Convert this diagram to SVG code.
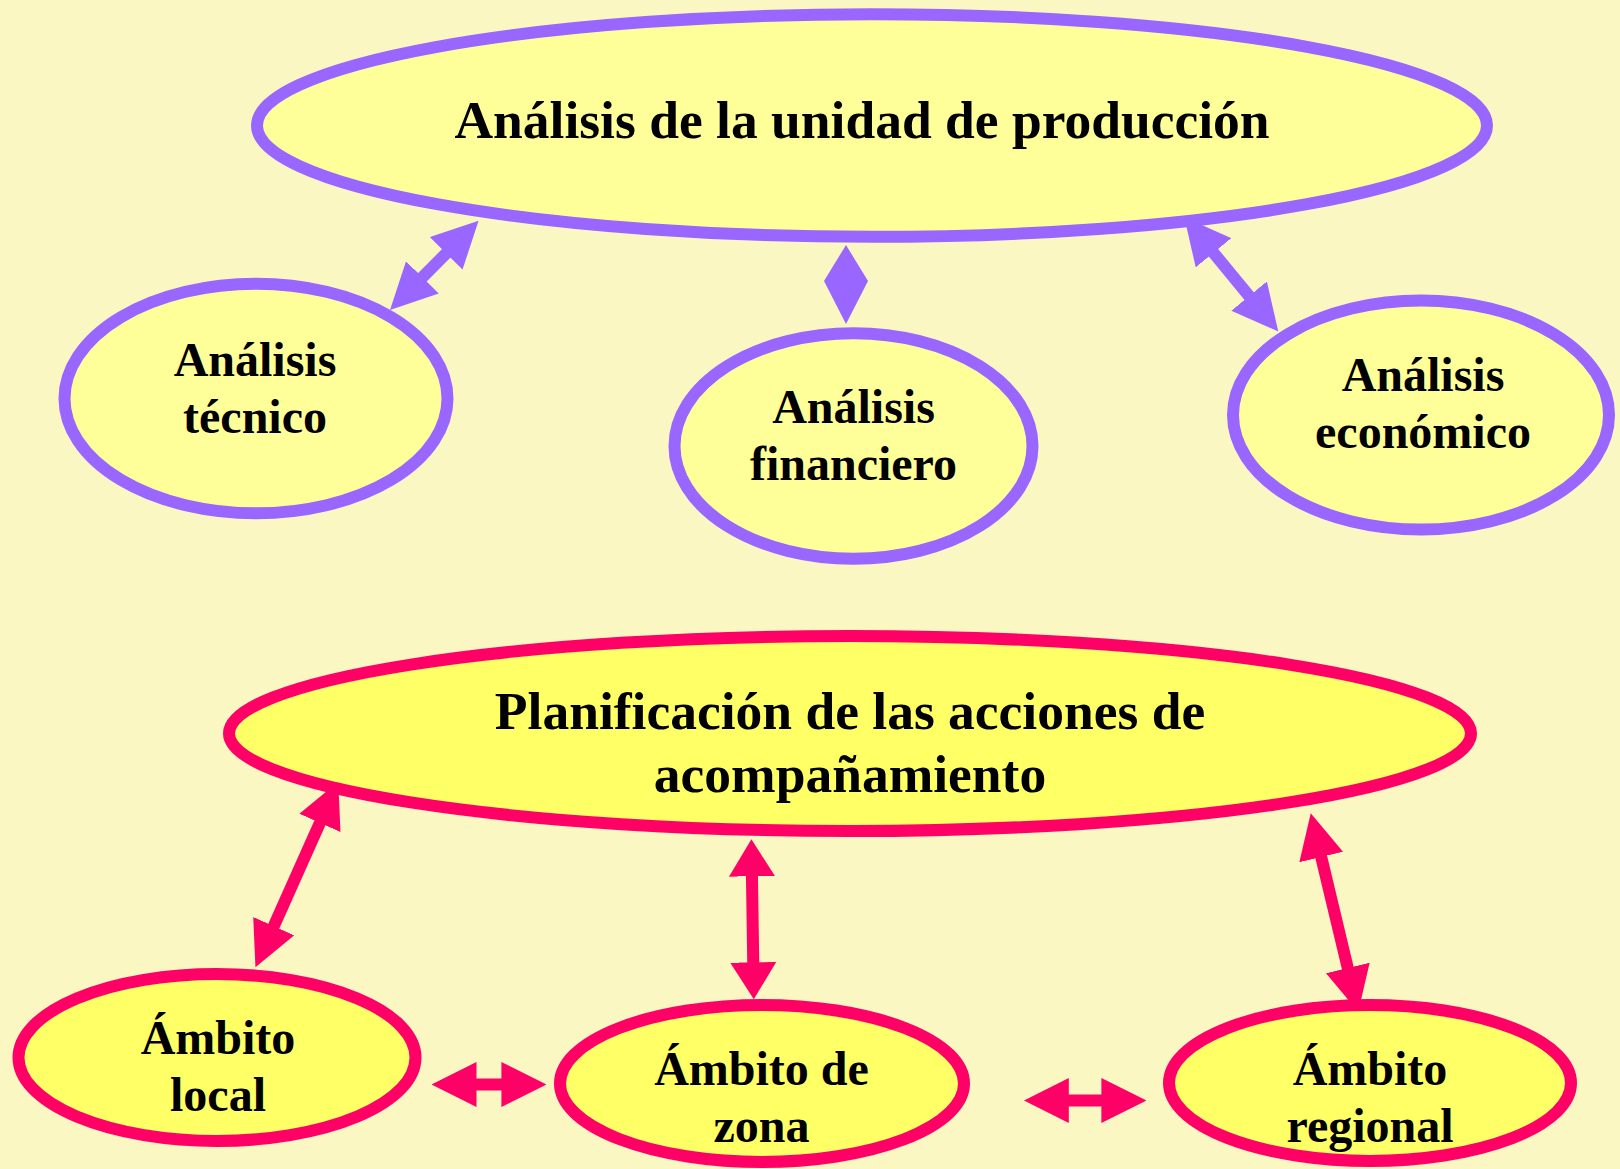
<svg xmlns="http://www.w3.org/2000/svg" width="1620" height="1169" viewBox="0 0 1620 1169">
<style>
.bg{fill:#FAF7C3}
.np{fill:#FFFF99;stroke:#9966FF;stroke-width:12}
.nk{fill:#FFFF66;stroke:#FF0066;stroke-width:12}
text{font-family:"Liberation Serif","Times New Roman",serif;font-weight:bold;fill:#000;text-anchor:middle}
.big{font-size:53.5px}
.sm{font-size:48px}
.cp{stroke:#9966FF;stroke-width:12;fill:none}
.ck{stroke:#FF0066;stroke-width:12;fill:none}
</style>
<defs>
<marker id="mp" viewBox="0 0 46 46" markerWidth="46" markerHeight="46" markerUnits="userSpaceOnUse" refX="26" refY="23" orient="auto-start-reverse"><path d="M0,0 L46,23 L0,46 Z" fill="#9966FF"/></marker>
<marker id="mk" viewBox="0 0 45 45" markerWidth="45" markerHeight="45" markerUnits="userSpaceOnUse" refX="25" refY="22.5" orient="auto-start-reverse"><path d="M0,0 L45,22.5 L0,45 Z" fill="#FF0066"/></marker>
<marker id="mk2" viewBox="0 0 37 46" markerWidth="37" markerHeight="46" markerUnits="userSpaceOnUse" refX="17" refY="23" orient="auto-start-reverse"><path d="M0,0 L37,23 L0,46 Z" fill="#FF0066"/></marker>
</defs>
<rect class="bg" x="0" y="0" width="1620" height="1169"/>

<g id="connectors">
<path class="cp" d="M464.5,234.9 L404.1,295.8" marker-start="url(#mp)" marker-end="url(#mp)"/>
<polygon points="846,245 868,281 846,324 824,281" fill="#9966FF"/>
<path class="cp" d="M1197,232.7 L1265.6,316.1" marker-start="url(#mp)" marker-end="url(#mp)"/>
<path class="ck" d="M330.1,800 L263.6,949" marker-start="url(#mk)" marker-end="url(#mk)"/>
<path class="ck" d="M751.7,859.3 L753.5,979.3" marker-start="url(#mk2)" marker-end="url(#mk2)"/>
<path class="ck" d="M1315.4,832.7 L1353.6,992.3" marker-start="url(#mk)" marker-end="url(#mk)"/>
<path class="ck" d="M451.5,1084.5 L526.4,1084.5" marker-start="url(#mk)" marker-end="url(#mk)"/>
<path class="ck" d="M1043.8,1100.5 L1126.4,1100.5" marker-start="url(#mk)" marker-end="url(#mk)"/>
</g>

<g id="n-unidad">
<ellipse class="np" cx="872" cy="125.5" rx="615" ry="111.3"/>
<text class="big" x="862" y="138">Análisis de la unidad de producción</text>
</g>
<g id="n-tecnico">
<ellipse class="np" cx="256" cy="398.5" rx="191.5" ry="114.8"/>
<text class="sm" x="255" y="376">Análisis</text>
<text class="sm" x="255" y="433">técnico</text>
</g>
<g id="n-financiero">
<ellipse class="np" cx="853.5" cy="446" rx="179" ry="112.8"/>
<text class="sm" x="853.5" y="423">Análisis</text>
<text class="sm" x="853.5" y="480">financiero</text>
</g>
<g id="n-economico">
<ellipse class="np" cx="1421" cy="415" rx="188" ry="114.5"/>
<text class="sm" x="1423" y="391">Análisis</text>
<text class="sm" x="1423" y="448">económico</text>
</g>

<g id="n-planificacion">
<ellipse class="nk" cx="850" cy="733.5" rx="621" ry="97.5"/>
<text class="big" x="850" y="729">Planificación de las acciones de</text>
<text class="big" x="850" y="792">acompañamiento</text>
</g>
<g id="n-local">
<ellipse class="nk" cx="217" cy="1057.5" rx="198.5" ry="83.5"/>
<text class="sm" x="218" y="1054">Ámbito</text>
<text class="sm" x="218" y="1111">local</text>
</g>
<g id="n-zona">
<ellipse class="nk" cx="762" cy="1083.5" rx="202" ry="78.5"/>
<text class="sm" x="761.5" y="1085">Ámbito de</text>
<text class="sm" x="761.5" y="1142">zona</text>
</g>
<g id="n-regional">
<ellipse class="nk" cx="1370" cy="1083" rx="201" ry="78"/>
<text class="sm" x="1370" y="1085">Ámbito</text>
<text class="sm" x="1370" y="1142">regional</text>
</g>
</svg>
